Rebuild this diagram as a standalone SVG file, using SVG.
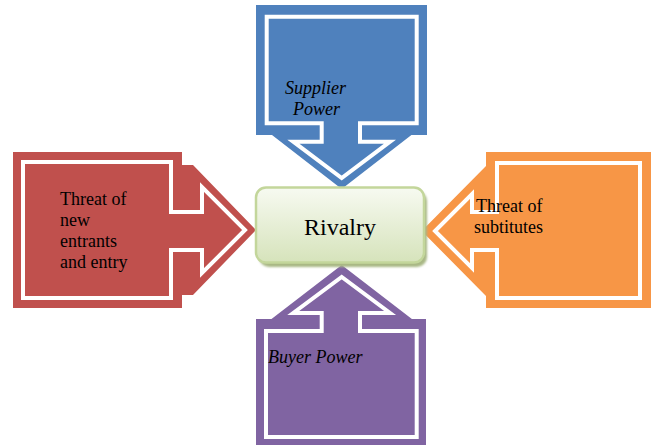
<svg xmlns="http://www.w3.org/2000/svg" width="656" height="445" viewBox="0 0 656 445">
  <defs>
    <linearGradient id="boxFill" x1="0" y1="0" x2="0" y2="1">
      <stop offset="0" stop-color="#f7faf1"/>
      <stop offset="1" stop-color="#d6e3bb"/>
    </linearGradient>
    <filter id="soft" x="-10%" y="-10%" width="120%" height="130%">
      <feGaussianBlur stdDeviation="0.8"/>
    </filter>
  </defs>
  <style>
    .inner { fill: none; stroke: #ffffff; stroke-width: 4; stroke-linejoin: miter; }
    .label { font-family: "Liberation Serif", "Times New Roman", serif; font-size: 18px; fill: #000000; }
    .ital { font-style: italic; }
    .big { font-size: 24px; }
    .blue { fill: #4f81bd; }
    .red { fill: #c0504d; }
    .orange { fill: #f79646; }
    .purple { fill: #8064a2; }
  </style>

  <rect width="656" height="445" fill="#ffffff"/>

  <!-- Supplier Power: down-arrow callout -->
  <g id="supplier-power">
    <path class="blue" d="M256,5 H427 V135 H411.4 L341.7,189 L272,135 H256 Z"/>
    <path class="inner" d="M266.7,16.7 H416.7 V123.3 H360 V141.7 H390 L341.7,178 L293.3,141.7 H321.7 V123.3 H266.7 Z"/>
    <text class="label ital" x="285" y="94">Supplier</text>
    <text class="label ital" x="293" y="115">Power</text>
  </g>

  <!-- Threat of new entrants: right-arrow callout -->
  <g id="new-entrants">
    <path class="red" d="M13,152 H182 V165 H193 L256,230 L193,295 H182 V308 H13 Z"/>
    <path class="inner" d="M23,162 H171 V212 H202 V187 L245,230 L202,273 V250 H171 V298 H23 Z"/>
    <text class="label" x="60" y="205">Threat of</text>
    <text class="label" x="60" y="226">new</text>
    <text class="label" x="60" y="247">entrants</text>
    <text class="label" x="60" y="268">and entry</text>
  </g>

  <!-- Threat of substitutes: left-arrow callout -->
  <g id="substitutes">
    <path class="orange" d="M651,152 H486 V166 L421.7,231 L486,296 V308 H651 Z"/>
    <path class="inner" d="M640,163 H497 V212 H472 V194 L435,231 L472,268 V250 H497 V298 H640 Z"/>
    <text class="label" x="476" y="212">Threat of</text>
    <text class="label" x="474" y="233">subtitutes</text>
  </g>

  <!-- Buyer Power: up-arrow callout -->
  <g id="buyer-power">
    <path class="purple" d="M256,445 V319 H271.5 L341.7,265 L411.9,319 H426 V445 Z"/>
    <path class="inner" d="M266,437 V331 H321.7 V313 H293.3 L341.7,277 L390,313 H360 V331 H416.7 V437 Z"/>
    <text class="label ital" x="268" y="363">Buyer Power</text>
  </g>

  <!-- Central rivalry box -->
  <g id="rivalry">
    <rect x="259" y="191" width="168" height="76" rx="10" fill="#a9b885" filter="url(#soft)"/>
    <rect x="256" y="187.5" width="168" height="75" rx="10" fill="url(#boxFill)" stroke="#c3d69b" stroke-width="2.5"/>
    <text class="label big" x="340" y="235" text-anchor="middle">Rivalry</text>
  </g>

  <g id="connectors"/>
</svg>
